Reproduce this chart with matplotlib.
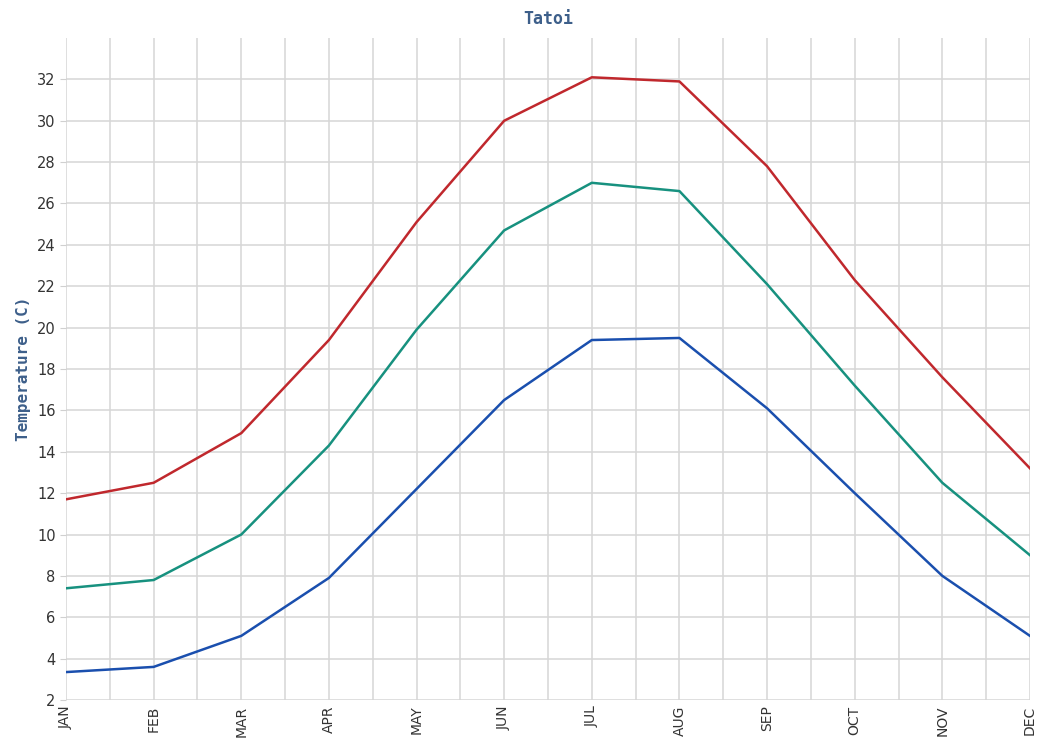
import numpy as np
import matplotlib.pyplot as plt

plt.rcParams['font.family'] = ['DejaVu Sans']

months = ['JAN', 'FEB', 'MAR', 'APR', 'MAY', 'JUN',
          'JUL', 'AUG', 'SEP', 'OCT', 'NOV', 'DEC']

t_max = [11.7, 12.5, 14.9, 19.4, 25.1, 30.0, 32.1, 31.9, 27.8, 22.3, 17.6, 13.2]
t_mean = [7.4, 7.8, 10.0, 14.3, 19.9, 24.7, 27.0, 26.6, 22.1, 17.2, 12.5, 9.0]
t_min = [3.35, 3.6, 5.1, 7.9, 12.2, 16.5, 19.4, 19.5, 16.1, 12.0, 8.0, 5.1]

fig = plt.figure(figsize=(10.43, 7.45), dpi=100)
ax = fig.add_axes([0.0633, 0.0604, 0.9242, 0.8886])

x = np.arange(len(months))
ax.plot(x, t_max, color='#c0282d', lw=1.8)
ax.plot(x, t_mean, color='#17917f', lw=1.8)
ax.plot(x, t_min, color='#1a4fae', lw=1.8)

ax.set_xlim(0, 11)
ax.set_ylim(2, 34)
ax.set_xticks(x)
ax.set_xticklabels(months, rotation=90, fontsize=10, color='#333333')
ax.set_xticks(np.arange(0.5, 11, 1), minor=True)
ax.set_yticks(np.arange(2, 33, 2))
ax.tick_params(axis='y', labelsize=10.5, labelcolor='#333333', length=4, color='#d0d0d0')
ax.tick_params(axis='x', which='both', length=0, pad=4)

ax.grid(True, which='major', color='#d6d6d6', lw=1.1)
ax.grid(True, which='minor', axis='x', color='#d6d6d6', lw=1.1)
ax.set_axisbelow(True)
for s in ax.spines.values():
    s.set_visible(False)

ax.set_title('Tatoi', fontsize=12, fontweight='bold', family='DejaVu Sans Mono',
             color='#3d5f8a', pad=10)
ax.set_ylabel('Temperature (C)', fontsize=11.5, fontweight='bold', family='DejaVu Sans Mono',
              color='#3d5f8a', labelpad=4)

fig.savefig('out.png', dpi=100)
